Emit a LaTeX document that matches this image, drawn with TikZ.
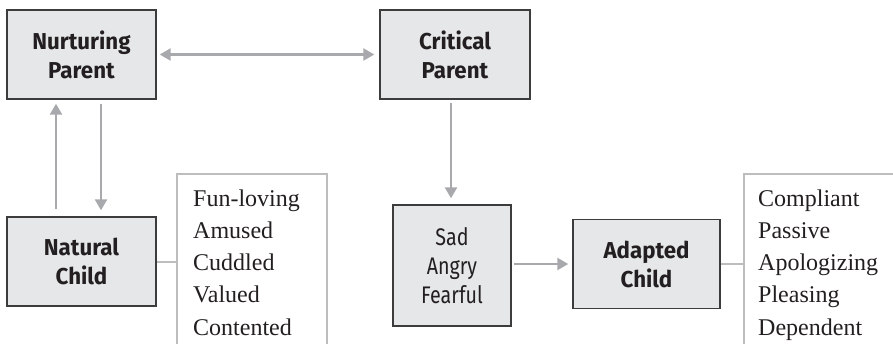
\documentclass[tikz,border=0pt]{standalone}
\usepackage{fontspec}
\setmainfont{Liberation Serif}
\newfontfamily\boxfont[FakeStretch=0.97]{Fira Sans}
\newfontfamily\boxfontreg[FakeStretch=0.82]{Fira Sans}
\usetikzlibrary{arrows.meta,calc}
\definecolor{boxfill}{HTML}{E6E7E8}
\definecolor{boxline}{HTML}{3C3C3C}
\definecolor{arrgray}{HTML}{A7A9AC}
\definecolor{listgray}{HTML}{BDBDBD}
\definecolor{ink}{HTML}{231F20}
\tikzset{
  statebox/.style={draw=boxline, line width=1.4pt, fill=boxfill, inner sep=0pt,
    align=center, text=ink, font=\boxfont\bfseries\fontsize{23}{29}\selectfont},
  plainbox/.style={statebox, font=\boxfontreg\fontsize{24}{29}\selectfont},
  arr/.style={draw=arrgray, line width=2.4pt, -{Triangle[length=11pt,width=12pt]}},
  darr/.style={draw=arrgray, line width=2.4pt, {Triangle[length=11pt,width=12pt]}-{Triangle[length=11pt,width=12pt]}},
  conn/.style={draw=listgray, line width=2pt},
  listframe/.style={draw=listgray, line width=1.3pt},
  listtext/.style={anchor=base west, inner sep=0pt, text=ink, font=\fontsize{24}{30}\selectfont}
}
\begin{document}
\begin{tikzpicture}[x=1pt,y=-1pt]
\useasboundingbox (0,0) rectangle (893,343);
% boxes
\node[statebox, minimum width=149pt, minimum height=89pt] (np) at (81.5,54.5) {Nurturing\\Parent};
\node[statebox, minimum width=150pt, minimum height=89pt] (cp) at (455,54.5) {Critical\\Parent};
\node[statebox, minimum width=149pt, minimum height=89pt] (nc) at (81.5,261.5) {Natural\\Child};
\node[plainbox, minimum width=118pt, minimum height=121pt] (sa) at (452,265.5) {Sad\\Angry\\Fearful};
\node[statebox, minimum width=147pt, minimum height=89pt] (ac) at (646.5,264) {Adapted\\Child};
% arrows
\draw[darr] ($(np.east)+(3,0)$) -- ($(cp.west)+(-5,0)$);
\draw[arr] ($(nc.north)+(-25.5,-7)$) -- ($(np.south)+(-25.5,4)$);
\draw[arr] ($(np.south)+(19.5,4)$) -- ($(nc.north)+(19.5,-6)$);
\draw[arr] ($(sa.north |- cp.south)+(-1,3)$) -- ($(sa.north)+(-1,-6)$);
\draw[arr] ($(sa.east |- ac.west)+(2,0)$) -- ($(ac.west)+(-4,0)$);
% lists
\coordinate (l1) at (177,261.5);
\coordinate (l2) at (744,264);
\draw[conn] (nc.east) -- (l1);
\draw[conn] (ac.east) -- (l2);
\draw[listframe] (177,345) -- (177,174) -- (327,174) -- (327,345);
\draw[listframe] (744,345) -- (744,174) -- (900,174);
\foreach \t [count=\i] in {Fun-loving,Amused,Cuddled,Valued,Contented}
  \node[listtext] (la\i) at (193,{206+32.3*(\i-1)}) {\t};
\foreach \t [count=\i] in {Compliant,Passive,Apologizing,Pleasing,Dependent}
  \node[listtext] (lb\i) at (758,{206+32.3*(\i-1)}) {\t};
\end{tikzpicture}
\end{document}
